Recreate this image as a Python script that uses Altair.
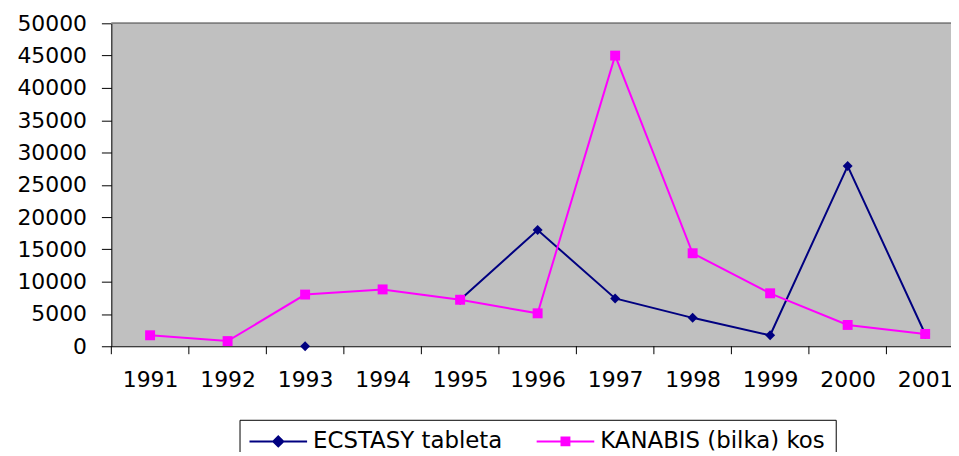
import altair as alt
import pandas as pd

years = [1991, 1992, 1993, 1994, 1995, 1996, 1997, 1998, 1999, 2000, 2001]
ecstasy = [None, None, 0, None, 7200, 18000, 7400, 4400, 1700, 27900, 1900]
kanabis = [1700, 800, 8000, 8800, 7200, 5100, 45000, 14400, 8200, 3300, 1900]
series_names = ["ECSTASY tableta", "KANABIS (bilka) kos"]
series_colors = ["#000080", "#FF00FF"]
y_ticks = [0, 5000, 10000, 15000, 20000, 25000, 30000, 35000, 40000, 45000, 50000]

W, H = 845, 325
FONT = "DejaVu Sans"

df_e = pd.DataFrame({"year": years, "value": ecstasy})
df_k = pd.DataFrame({"year": years, "value": kanabis})
df_b = pd.DataFrame({"b": [y - 0.5 for y in years]})
df_leg = pd.DataFrame({"series": series_names})

xscale = alt.Scale(domain=[years[0] - 0.5, years[0] - 0.5 + W / 78.0], zero=False, nice=False)
yscale = alt.Scale(domain=[0, 50000], nice=False, zero=True)

xenc = alt.X("year:Q", scale=xscale, axis=alt.Axis(
    values=years, format="d", ticks=False, grid=False, title=None,
    labelFont=FONT, labelFontSize=22, labelColor="black", labelPadding=24,
    labelFlush=False, labelOverlap=False, domainColor="black", domainWidth=1))
yenc = alt.Y("value:Q", scale=yscale, axis=alt.Axis(
    values=y_ticks, format="d", grid=False, title=None, tickSize=10, tickColor="black",
    labelFont=FONT, labelFontSize=22, labelColor="black", labelPadding=15,
    domainColor="black", domainWidth=1))

def series_layers(df, color, shape):
    line = alt.Chart(df).mark_line(color=color, strokeWidth=2).encode(x=xenc, y=yenc)
    pts = alt.Chart(df).mark_point(filled=True, shape=shape, size=100, color=color, opacity=1).encode(x=xenc, y=yenc)
    return [line, pts]

top_border = alt.Chart(df_leg).mark_rule(color="#808080", strokeWidth=1.5).encode(
    x=alt.value(0), x2=alt.value(W), y=alt.value(0))

ticks = alt.Chart(df_b).mark_rule(color="black", strokeWidth=1).encode(
    x=alt.X("b:Q", scale=xscale), y=alt.value(H), y2=alt.value(H + 8))

paths = [
    "M-4,0H4M0,-0.7L0.7,0L0,0.7L-0.7,0Z",
    "M-4,0H4M-0.55,-0.55H0.55V0.55H-0.55Z",
]
legend_def = alt.Legend(
    title=None, orient="none", legendX=129, legendY=399, direction="horizontal", columns=2,
    strokeColor="black", fillColor="white", padding=10,
    symbolSize=210, symbolStrokeWidth=2, symbolOffset=17.5, labelOffset=23.5,
    labelFont=FONT, labelFontSize=23, labelColor="black", labelLimit=400, columnPadding=30,
)
cscale = alt.Scale(domain=series_names, range=series_colors)
legend_layer = alt.Chart(df_leg).mark_point(filled=True, clip=True, size=210, strokeWidth=2, opacity=1).encode(
    x=alt.value(-200), y=alt.value(-200),
    color=alt.Color("series:N", scale=cscale, legend=legend_def),
    stroke=alt.Stroke("series:N", scale=cscale, legend=legend_def),
    shape=alt.Shape("series:N", scale=alt.Scale(domain=series_names, range=paths), legend=legend_def),
)

layers = [top_border, ticks] + series_layers(df_e, "#000080", "diamond") + series_layers(df_k, "#FF00FF", "square") + [legend_layer]

chart = alt.layer(*layers).properties(
    width=W, height=H,
    autosize=alt.AutoSizeParams(type="none"),
    padding={"left": 104, "top": 14, "right": 0, "bottom": 105},
    background="white",
).configure_view(stroke=None, fill="#C0C0C0")

chart.save("out.html", embed_options={"renderer": "svg", "actions": False})
